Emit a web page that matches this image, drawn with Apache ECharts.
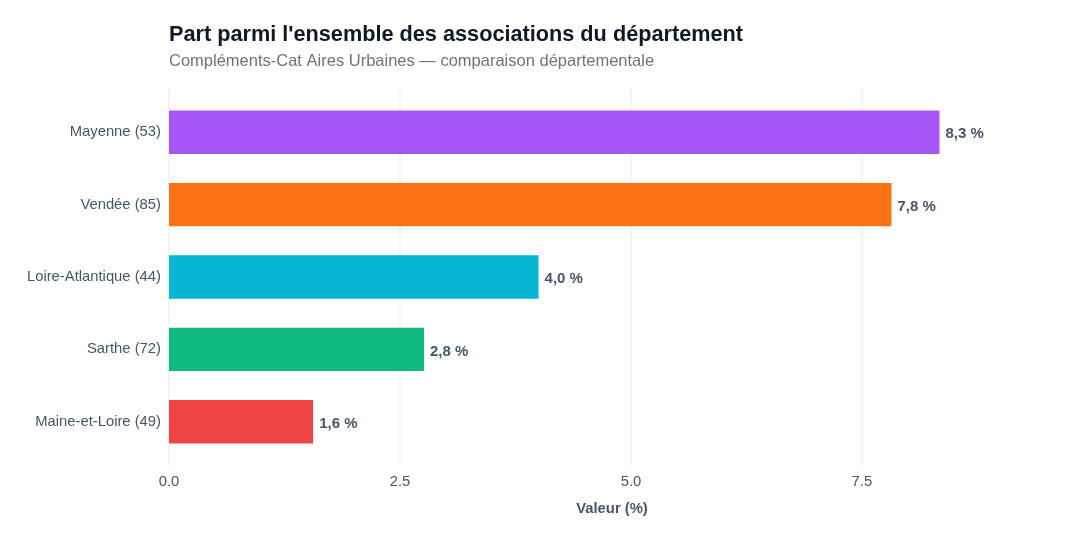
<!DOCTYPE html>
<html>
<head>
<meta charset="utf-8">
<script src="https://cdn.jsdelivr.net/npm/echarts@6/dist/echarts.min.js"></script>
<style>
  html, body { margin: 0; padding: 0; background: #fff; }
  #chart { width: 1080px; height: 540px; }
</style>
</head>
<body>
<div id="chart"></div>
<script>
var departements = ['Mayenne (53)', 'Vendée (85)', 'Loire-Atlantique (44)', 'Sarthe (72)', 'Maine-et-Loire (49)'];
var valeurs = [8.34, 7.82, 4.0, 2.76, 1.56];
var couleurs = ['#a855f7', '#f97316', '#06b6d4', '#10b981', '#ef4444'];
var xMax = 9.59;

var myChart = echarts.init(document.getElementById('chart'));
var police = 'Liberation Sans, Arial, sans-serif';

option = {
	animation : false,
	textStyle : { fontFamily : police },
	title : {
		text : "Part parmi l'ensemble des associations du département",
		subtext : 'Compléments-Cat Aires Urbaines — comparaison départementale',
		left : 164,
		top : 19,
		itemGap : 7,
		textStyle : { fontSize : 21.7, fontWeight : 'bold', color : '#111827', fontFamily : police },
		subtextStyle : { fontSize : 16.5, color : '#6b7280', fontFamily : police }
	},
	grid : [
		// grille de fond pour les lignes verticales
		{ left : 169, right : 25, top : 89, bottom : 75 },
		// grille des barres
		{ left : 169, right : 25, top : 96, bottom : 82 }
	],
	xAxis : [ {
		gridIndex : 0,
		type : 'value',
		min : 0,
		max : xMax,
		interval : 2.5,
		axisLine : { show : false },
		axisTick : { show : false },
		axisLabel : { show : false },
		splitLine : { show : true, showMaxLine : false, lineStyle : { color : '#eef0f4', width : 1.5 } }
	}, {
		gridIndex : 1,
		type : 'value',
		min : 0,
		max : xMax,
		interval : 2.5,
		name : 'Valeur (%)',
		nameLocation : 'middle',
		nameGap : 43,
		nameTextStyle : { fontSize : 14.8, fontWeight : 'bold', color : '#475569' },
		axisLine : { show : false },
		axisTick : { show : false },
		splitLine : { show : false },
		axisLabel : {
			margin : 16,
			fontSize : 14.8,
			color : '#475569',
			showMaxLabel : false,
			formatter : function (v) { return v.toFixed(1); }
		}
	} ],
	yAxis : [ {
		gridIndex : 0,
		type : 'category',
		data : departements,
		show : false
	}, {
		gridIndex : 1,
		type : 'category',
		inverse : true,
		data : departements,
		axisLine : { show : false },
		axisTick : { show : false },
		axisLabel : { fontSize : 14.8, color : '#475569', margin : 8, padding : [3, 0, 0, 0] }
	} ],
	series : [ {
		type : 'bar',
		xAxisIndex : 1,
		yAxisIndex : 1,
		barWidth : '60%',
		data : valeurs.map(function (v, i) {
			return { value : v, itemStyle : { color : couleurs[i] } };
		}),
		label : {
			show : true,
			position : 'right',
			distance : 6,
			offset : [0, 2],
			fontSize : 15,
			fontWeight : 'bold',
			color : '#475569',
			formatter : function (p) { return p.value.toFixed(1).replace('.', ',') + ' %'; }
		}
	} ]
};
myChart.setOption(option);
</script>
</body>
</html>
